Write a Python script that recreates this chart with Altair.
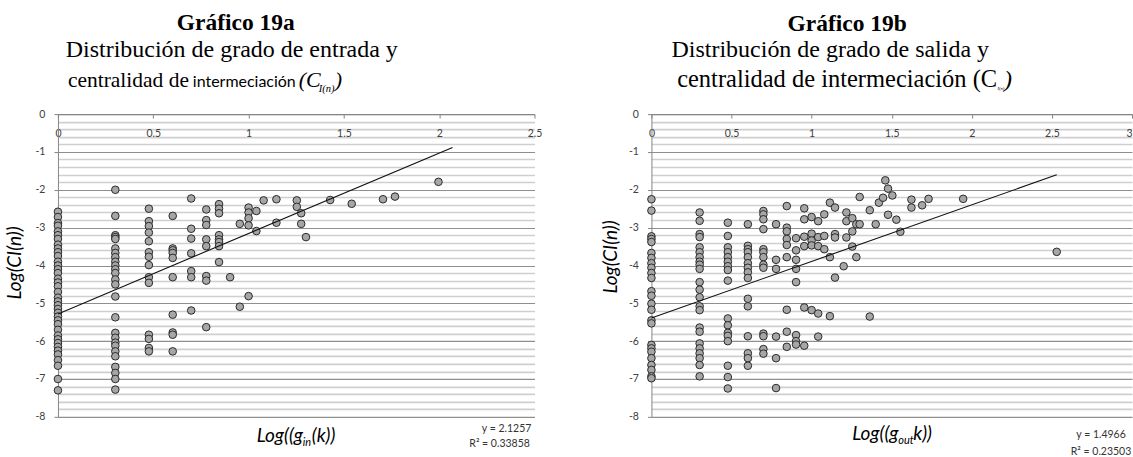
import altair as alt
import pandas as pd

# ---- Gráfico 19a: in-degree (log) vs betweenness centrality (log) ----
in_cols = [0.0, 0.301, 0.477, 0.602, 0.699, 0.778, 0.845, 0.903, 0.954, 1.0,
           1.041, 1.079, 1.146, 1.253, 1.276, 1.301, 1.428, 1.541, 1.705, 1.768, 1.996]
in_vals = [
    [-2.58, -2.72, -2.88, -2.95, -3.1, -3.2, -3.3, -3.45, -3.55, -3.65, -3.75, -3.9,
     -4.0, -4.1, -4.2, -4.35, -4.45, -4.55, -4.7, -4.85, -4.95, -5.05, -5.15, -5.25,
     -5.35, -5.45, -5.55, -5.7, -5.85, -5.95, -6.05, -6.15, -6.25, -6.35, -6.5, -6.65,
     -7.0, -7.3],
    [-2.0, -2.69, -3.2, -3.25, -3.3, -3.55, -3.67, -3.78, -3.9, -4.0, -4.1, -4.2,
     -4.37, -4.5, -4.82, -5.37, -5.78, -5.91, -6.04, -6.12, -6.27, -6.4, -6.68, -6.84,
     -7.0, -7.28],
    [-2.5, -2.83, -2.96, -3.13, -3.36, -3.65, -3.77, -3.99, -4.31, -4.46, -5.83, -5.94,
     -6.18, -6.27],
    [-2.69, -3.55, -3.6, -3.67, -3.8, -4.31, -5.3, -5.77, -5.83, -6.27],
    [-2.23, -3.03, -3.29, -3.68, -4.15, -4.31, -5.19],
    [-2.52, -2.8, -2.93, -3.31, -3.49, -4.28, -4.4, -5.63],
    [-2.38, -2.5, -2.62, -3.2, -3.31, -3.38, -3.49, -3.91],
    [-4.31],
    [-2.9, -5.09],
    [-2.47, -2.6, -2.75, -2.94, -4.81],
    [-2.56, -3.09],
    [-2.28],
    [-2.25, -2.87],
    [-2.28, -2.45],
    [-2.62, -2.9],
    [-3.25],
    [-2.27],
    [-2.37],
    [-2.25],
    [-2.18],
    [-1.79],
]
in_slope, in_intercept, in_xend = 2.1257, -5.28, 2.07

# ---- Gráfico 19b: out-degree (log) vs betweenness centrality (log) ----
out_cols = [0.0, 0.301, 0.477, 0.602, 0.699, 0.778, 0.845, 0.903, 0.954, 1.0,
            1.041, 1.079, 1.114, 1.146, 1.2, 1.217, 1.254, 1.279, 1.3, 1.363,
            1.4, 1.42, 1.446, 1.46, 1.477, 1.504, 1.529, 1.554, 1.623, 1.69,
            1.73, 1.946, 2.53]
out_vals = [
    [-2.25, -2.55, -3.23, -3.3, -3.38, -3.67, -3.8, -3.94, -4.06, -4.2, -4.33, -4.68,
     -4.8, -5.01, -5.17, -5.45, -5.53, -6.1, -6.19, -6.28, -6.45, -6.63, -6.76, -6.93,
     -6.98],
    [-2.6, -2.82, -3.17, -3.25, -3.52, -3.65, -3.78, -3.9, -3.98, -4.09, -4.44, -4.64,
     -4.84, -5.08, -5.18, -5.64, -5.75, -6.06, -6.19, -6.32, -6.45, -6.63, -6.93],
    [-2.87, -3.22, -3.52, -3.65, -3.78, -3.9, -4.02, -4.12, -4.4, -5.4, -5.58, -5.78,
     -5.86, -6.0, -6.65, -6.95, -7.25],
    [-2.91, -3.48, -3.57, -3.65, -3.78, -3.94, -4.06, -4.18, -4.33, -4.88, -5.08, -5.87,
     -6.32, -6.45, -6.65],
    [-2.56, -2.65, -2.78, -3.04, -3.57, -3.65, -3.78, -3.98, -4.06, -5.8, -5.87, -6.21,
     -6.33],
    [-2.91, -3.85, -4.09, -5.88, -6.45, -7.24],
    [-2.43, -3.0, -3.1, -3.3, -3.46, -3.78, -5.17, -5.75, -6.15],
    [-3.28, -3.6, -3.85, -4.09, -4.44, -5.84, -6.0, -6.09],
    [-2.49, -2.78, -3.24, -3.49, -5.11, -6.12],
    [-2.72, -3.16, -3.34, -3.47, -5.18],
    [-2.83, -3.25, -3.49, -5.27, -5.88],
    [-2.65, -3.22, -3.57],
    [-2.34, -3.78, -5.34],
    [-2.47, -3.17, -3.26, -4.32],
    [-4.02],
    [-2.6, -2.83, -3.26],
    [-2.75, -3.1, -3.5],
    [-2.91, -3.78],
    [-2.19, -2.91],
    [-2.54, -5.35],
    [-2.91],
    [-2.34],
    [-2.21],
    [-1.75],
    [-1.97, -2.66],
    [-2.15],
    [-2.79],
    [-3.11],
    [-2.26, -2.47],
    [-2.41],
    [-2.24],
    [-2.24],
    [-3.64],
]
out_slope, out_intercept, out_xend = 1.4966, -5.39, 2.53

H = 303
W_IN, W_OUT = 477, 481
y_ticks = [round(-8 + 0.2 * i, 1) for i in range(41)]

SERIF = "Liberation Serif"
SANS = "Lato"
MAJOR = "abs(datum.value % 1) < 0.001"


def points_frame(cols, vals):
    rows = [(x, y) for x, ys in zip(cols, vals) for y in ys]
    return pd.DataFrame(rows, columns=["x", "y"])


def label(txt, x, y, size=10, font=SANS, align="left", baseline="alphabetic",
          style="normal", weight="normal", angle=0, color="#000000"):
    kw = dict(text=txt, font=font, fontSize=size, align=align, baseline=baseline,
              fontStyle=style, fontWeight=weight, color=color)
    if angle:
        kw["angle"] = angle
    return alt.Chart(pd.DataFrame({"t": [txt]})).mark_text(**kw).encode(
        x=alt.value(x), y=alt.value(y))


def panel(cols, vals, xmax, width, slope, intercept, xend, flush_last, extras):
    df = points_frame(cols, vals)
    fit = pd.DataFrame({"x": [0.0, xend],
                        "y": [intercept, intercept + slope * xend]})
    x_ticks = [v / 2 for v in range(0, int(xmax * 2) + 1)]
    xscale = alt.Scale(domain=[0, xmax], nice=False, zero=False)
    yscale = alt.Scale(domain=[-8, 0], nice=False, zero=False)
    xaxis = alt.Axis(
        orient="bottom", offset=-H, values=x_ticks, tickCount=20, grid=False, title=None,
        labelExpr="'' + datum.value", labelFlush=False,
        labelAlign=({"condition": {"test": f"datum.value === {xmax}", "value": "right"},
                     "value": "center"} if flush_last else "center"),
        tickSize=4, tickColor="#868686", domainColor="#868686",
        labelPadding=10, labelFont=SANS, labelFontSize=10.5, labelColor="#404040",
    )
    yaxis = alt.Axis(
        values=y_ticks, tickCount=100, title=None, labelOverlap=False,
        labelExpr=f"{MAJOR} ? '' + round(datum.value) : ''",
        grid=True,
        gridColor={"condition": {"test": MAJOR, "value": "#8f8f8f"}, "value": "#cfcfcf"},
        gridWidth={"condition": {"test": MAJOR, "value": 1.1}, "value": 1.6},
        tickColor={"condition": {"test": MAJOR, "value": "#868686"}, "value": "transparent"},
        tickSize=4, domainColor="#868686",
        labelPadding=9, labelFont=SANS, labelFontSize=10.5, labelColor="#404040",
    )
    pts = alt.Chart(df).mark_circle(
        size=58, color="#a6a6a6", stroke="#2a2a2a", strokeWidth=1, opacity=1
    ).encode(x=alt.X("x:Q", scale=xscale, axis=xaxis),
             y=alt.Y("y:Q", scale=yscale, axis=yaxis))
    line = alt.Chart(fit).mark_line(color="#111111", strokeWidth=1.1).encode(
        x=alt.X("x:Q", scale=xscale), y=alt.Y("y:Q", scale=yscale))
    return alt.layer(pts, line, *extras).properties(width=width, height=H)


# corner marker so the page starts at the very top-left
corner = alt.Chart(pd.DataFrame({"a": [0]})).mark_rect(opacity=0).encode(
    x=alt.value(-58), x2=alt.value(-57), y=alt.value(-114), y2=alt.value(-113))

left_extras = [
    corner,
    label("Gráfico 19a", 178, -84, size=23.5, font=SERIF, align="center", weight="bold"),
    label("Distribución de grado de entrada y", 174, -57, size=24, font=SERIF, align="center"),
    label("centralidad de", 10, -27, size=21.5, font=SERIF),
    label("intermeciación", 135, -27, size=16, font=SANS),
    label("(C", 241, -27, size=22, font=SERIF, style="italic"),
    label("I(n)", 261, -22, size=10.5, font=SERIF, style="italic"),
    label(")", 277, -27, size=22, font=SERIF, style="italic"),
    label("Log(CI(n))", -43, 149, size=19, style="italic", align="center",
          baseline="middle", angle=270),
    label("Log((g", 199, 328, size=19, style="italic"),
    label("in", 245, 332, size=11, style="italic"),
    label("(k))", 254, 328, size=19, style="italic"),
    label("y = 2.1257", 449, 315, size=10.5, align="center", baseline="middle", color="#333333"),
    label("R² = 0.33858", 442, 330, size=10.5, align="center", baseline="middle", color="#333333"),
]

right_extras = [
    label("Gráfico 19b", 196, -83, size=23.5, font=SERIF, align="center", weight="bold"),
    label("Distribución de grado de salida y", 179, -57, size=24, font=SERIF, align="center"),
    label("centralidad de intermeciación (C", 346, -27, size=24.5, font=SERIF, align="right"),
    label("I(n)", 346.5, -24, size=4.5, font=SERIF, style="italic"),
    label(")", 353, -27, size=24, font=SERIF, style="italic"),
    label("Log(CI(n))", -40, 143, size=19, style="italic", align="center",
          baseline="middle", angle=270),
    label("Log((g", 201, 326, size=19, style="italic"),
    label("out", 247, 330, size=11, style="italic"),
    label("k))", 262, 326, size=19, style="italic"),
    label("y = 1.4966", 450, 321, size=10.5, align="center", baseline="middle", color="#333333"),
    label("R² = 0.23503", 450, 338, size=10.5, align="center", baseline="middle", color="#333333"),
]

left = panel(in_cols, in_vals, 2.5, W_IN, in_slope, in_intercept, in_xend, False, left_extras)
right = panel(out_cols, out_vals, 3, W_OUT, out_slope, out_intercept, out_xend, True, right_extras)

chart = alt.hconcat(left, right, spacing=117, bounds="flush").properties(
    padding=0, background="white"
).configure_view(strokeWidth=0)

chart.save("out.html", embed_options={"renderer": "svg", "actions": False})
